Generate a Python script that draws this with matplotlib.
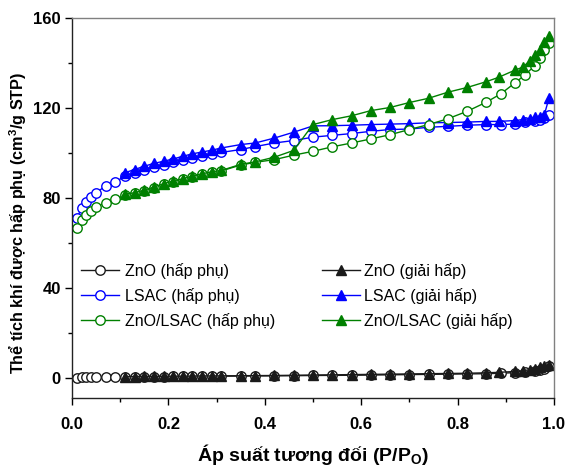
import matplotlib
matplotlib.use("Agg")
import matplotlib.pyplot as plt
from matplotlib.ticker import MultipleLocator, FormatStrFormatter

plt.rcParams['font.family'] = ['Liberation Sans', 'DejaVu Sans']
plt.rcParams['mathtext.fontset'] = 'custom'
plt.rcParams['mathtext.rm'] = 'Liberation Sans:bold'
plt.rcParams['mathtext.bf'] = 'Liberation Sans:bold'
plt.rcParams['mathtext.it'] = 'Liberation Sans:bold'

# Adsorption branch relative pressures
x_ads = [0.01, 0.02, 0.03, 0.04, 0.05, 0.07, 0.09, 0.11, 0.13, 0.15, 0.17, 0.19, 0.21,
         0.23, 0.25, 0.27, 0.29, 0.31, 0.35, 0.38, 0.42, 0.46, 0.50, 0.54, 0.58, 0.62,
         0.66, 0.70, 0.74, 0.78, 0.82, 0.86, 0.89, 0.92, 0.94, 0.96, 0.97, 0.98, 0.99]
# Desorption branch relative pressures
x_des = [0.99, 0.98, 0.97, 0.96, 0.95, 0.935, 0.92, 0.885, 0.86, 0.82, 0.78, 0.74, 0.70,
         0.66, 0.62, 0.58, 0.54, 0.50, 0.46, 0.42, 0.38, 0.35, 0.31, 0.29, 0.27, 0.25,
         0.23, 0.21, 0.19, 0.17, 0.15, 0.13, 0.11]

zno_ads = [0.1, 0.15, 0.2, 0.2, 0.25, 0.3, 0.35, 0.4, 0.45, 0.5, 0.5, 0.55, 0.6,
           0.6, 0.65, 0.65, 0.7, 0.7, 0.75, 0.8, 0.85, 0.9, 1.0, 1.05, 1.1, 1.2,
           1.3, 1.4, 1.5, 1.6, 1.7, 1.8, 2.0, 2.3, 2.6, 3.0, 3.4, 4.0, 5.0]
zno_des = [5.8, 5.2, 4.6, 4.0, 3.6, 3.1, 2.8, 2.4, 2.2, 2.0, 1.9, 1.8, 1.7,
           1.6, 1.5, 1.4, 1.3, 1.2, 1.1, 1.0, 0.95, 0.9, 0.85, 0.8, 0.8, 0.75,
           0.7, 0.7, 0.65, 0.6, 0.6, 0.55, 0.5]

lsac_ads = [71.0, 75.4, 78.3, 80.5, 82.3, 85.3, 87.2, 89.5, 91.0, 92.5, 93.7, 94.8, 95.8,
            96.9, 97.8, 98.7, 99.5, 100.2, 101.5, 102.8, 104.4, 105.5, 107.0, 107.8, 108.6, 109.6,
            110.4, 110.6, 111.4, 111.8, 112.3, 112.6, 112.6, 112.8, 113.6, 114.3, 114.8, 115.5, 117.0]
lsac_des = [124.6, 117.0, 116.1, 115.8, 115.2, 114.8, 114.4, 114.0, 114.0, 113.7, 113.5, 113.4, 113.0,
            112.8, 112.6, 112.3, 112.1, 112.0, 109.2, 106.6, 104.4, 103.7, 102.2, 101.2, 100.4, 99.6,
            98.5, 97.3, 96.3, 95.3, 94.1, 92.6, 91.2]

znolsac_ads = [66.5, 70.1, 72.4, 74.2, 76.0, 77.9, 79.4, 81.2, 82.0, 83.1, 84.5, 86.0, 87.2,
               88.2, 89.4, 90.4, 91.3, 92.0, 94.6, 95.8, 97.0, 99.0, 100.7, 102.7, 104.4, 106.2,
               108.1, 110.4, 112.6, 115.2, 118.5, 122.6, 126.3, 131.3, 134.7, 138.8, 142.0, 145.7, 148.7]
znolsac_des = [151.9, 149.4, 145.7, 143.5, 141.0, 138.1, 136.9, 133.6, 131.7, 129.1, 127.0, 124.3, 122.4,
               120.2, 118.8, 116.5, 114.8, 112.6, 101.1, 98.1, 96.0, 94.9, 92.2, 91.6, 90.7, 89.7,
               88.5, 87.5, 86.3, 84.8, 83.4, 82.3, 81.6]

labels_ads = ['ZnO (hấp phụ)', 'LSAC (hấp phụ)', 'ZnO/LSAC (hấp phụ)']
labels_des = ['ZnO (giải hấp)', 'LSAC (giải hấp)', 'ZnO/LSAC (giải hấp)']
colors = ['#1a1a1a', '#0000ff', '#008000']

fig = plt.figure(figsize=(5.69, 4.67), dpi=100)
ax = fig.add_axes([0.1265, 0.1478, 0.9736 - 0.1265, 0.9615 - 0.1478])

ads_series = [zno_ads, lsac_ads, znolsac_ads]
des_series = [zno_des, lsac_des, znolsac_des]
h_ads, h_des = [], []
for ya, yd, c, la, ld in zip(ads_series, des_series, colors, labels_ads, labels_des):
    l1, = ax.plot(x_ads, ya, '-o', color=c, lw=1.0, ms=6.8, mfc='white', mec=c, mew=1.0, label=la)
    l2, = ax.plot(x_des, yd, '-^', color=c, lw=1.0, ms=7.0, mfc=c, mec=c, label=ld)
    h_ads.append(l1)
    h_des.append(l2)

ax.set_xlim(0, 1.0)
ax.set_ylim(-9, 160)
ax.xaxis.set_major_locator(MultipleLocator(0.2))
ax.xaxis.set_minor_locator(MultipleLocator(0.1))
ax.yaxis.set_major_locator(MultipleLocator(40))
ax.yaxis.set_minor_locator(MultipleLocator(20))
ax.xaxis.set_major_formatter(FormatStrFormatter('%.1f'))
ax.yaxis.set_major_formatter(FormatStrFormatter('%d'))
ax.tick_params(which='major', direction='out', length=5, width=1, labelsize=12)
ax.tick_params(which='minor', direction='out', length=3, width=1)
ax.tick_params(axis='x', which='major', pad=9)
ax.tick_params(axis='y', which='major', pad=3)
for lab in ax.get_xticklabels() + ax.get_yticklabels():
    lab.set_fontweight('bold')

for s in ['left', 'bottom']:
    ax.spines[s].set_color('#222222')
    ax.spines[s].set_linewidth(1.0)
for s in ['top', 'right']:
    ax.spines[s].set_color('#808080')
    ax.spines[s].set_linewidth(1.0)

ax.set_xlabel('Áp suất tương đối (P/P$_{\\mathbf{O}}$)', fontsize=14, fontweight='bold', labelpad=7)
ax.set_ylabel('Thể tích khí được hấp phụ (cm$^{\\mathbf{3}}$/g STP)', fontsize=11.7, fontweight='bold')
ax.yaxis.set_label_coords(-0.09, 0.46)

leg_kw = dict(frameon=False, fontsize=11.5, handlelength=2.4, borderpad=0, borderaxespad=0,
              labelspacing=0.55, numpoints=1, loc='upper left')
leg1 = ax.legend(handles=h_ads, bbox_to_anchor=(0.018, 0.355), handletextpad=0.35, **leg_kw)
ax.add_artist(leg1)
leg2 = ax.legend(handles=h_des, bbox_to_anchor=(0.518, 0.355), handletextpad=0.25, **leg_kw)

fig.savefig('out.png', dpi=100)
